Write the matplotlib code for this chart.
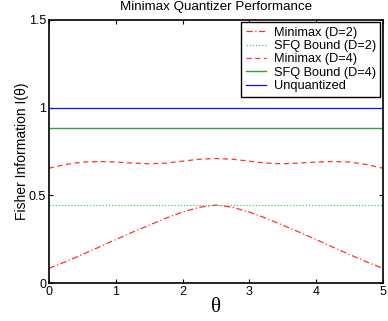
import matplotlib.pyplot as plt

plt.rcParams["font.family"] = ["Liberation Sans", "DejaVu Sans"]

theta = [0, 0.25, 0.5, 0.75, 1.0, 1.25, 1.5, 1.75, 2.0, 2.25, 2.5,
         2.75, 3.0, 3.25, 3.5, 3.75, 4.0, 4.25, 4.5, 4.75, 5.0]
minimax_d2 = [0.084, 0.122, 0.163, 0.205, 0.248, 0.290, 0.330, 0.370, 0.405, 0.432, 0.445,
              0.432, 0.405, 0.370, 0.330, 0.290, 0.248, 0.205, 0.163, 0.122, 0.084]
minimax_d4 = [0.655, 0.676, 0.690, 0.693, 0.690, 0.684, 0.680, 0.684, 0.695, 0.706, 0.710,
              0.706, 0.695, 0.684, 0.680, 0.684, 0.690, 0.693, 0.690, 0.676, 0.655]
sfq_d2 = 0.445
sfq_d4 = 0.884
unquantized = 1.0

fig = plt.figure(figsize=(3.88, 3.21), dpi=100)
ax = fig.add_axes([0.126, 0.118, 0.861, 0.820])

ax.plot(theta, minimax_d2, color="#ff3030", ls=(0, (5, 2, 1, 2)), lw=0.9, label="Minimax (D=2)")
ax.plot(theta, [sfq_d2] * len(theta), color="#66bb66", ls=(0, (1, 1.5)), lw=0.9, label="SFQ Bound (D=2)")
ax.plot(theta, minimax_d4, color="#ff3030", ls=(0, (4, 3)), lw=0.9, label="Minimax (D=4)")
ax.plot(theta, [sfq_d4] * len(theta), color="#2e9e50", ls="-", lw=1.0, label="SFQ Bound (D=4)")
ax.plot(theta, [unquantized] * len(theta), color="#1010ee", ls="-", lw=0.9, label="Unquantized")

ax.set_xlim(0, 5)
ax.set_ylim(0, 1.5)
ax.set_xticks([0, 1, 2, 3, 4, 5])
ax.set_yticks([0, 0.5, 1, 1.5])
ax.set_yticklabels(["0", "0.5", "1", "1.5"])
ax.tick_params(direction="in", top=True, right=True, labelsize=9, length=3, pad=2)
for s in ax.spines.values():
    s.set_linewidth(1.2)

ax.set_title("Minimax Quantizer Performance", fontsize=9.6, pad=7)
ax.set_xlabel("θ", fontsize=15, family="Liberation Serif", labelpad=0)
ax.set_ylabel("Fisher Information I(θ)", fontsize=10, labelpad=0)

leg = ax.legend(loc="upper right", fontsize=9.2, fancybox=False, edgecolor="black",
                framealpha=1, handlelength=1.6, labelspacing=0.1,
                borderpad=0.35, borderaxespad=0.2, handletextpad=0.6)
leg.get_frame().set_linewidth(1.0)

plt.savefig("out.png", dpi=100)
